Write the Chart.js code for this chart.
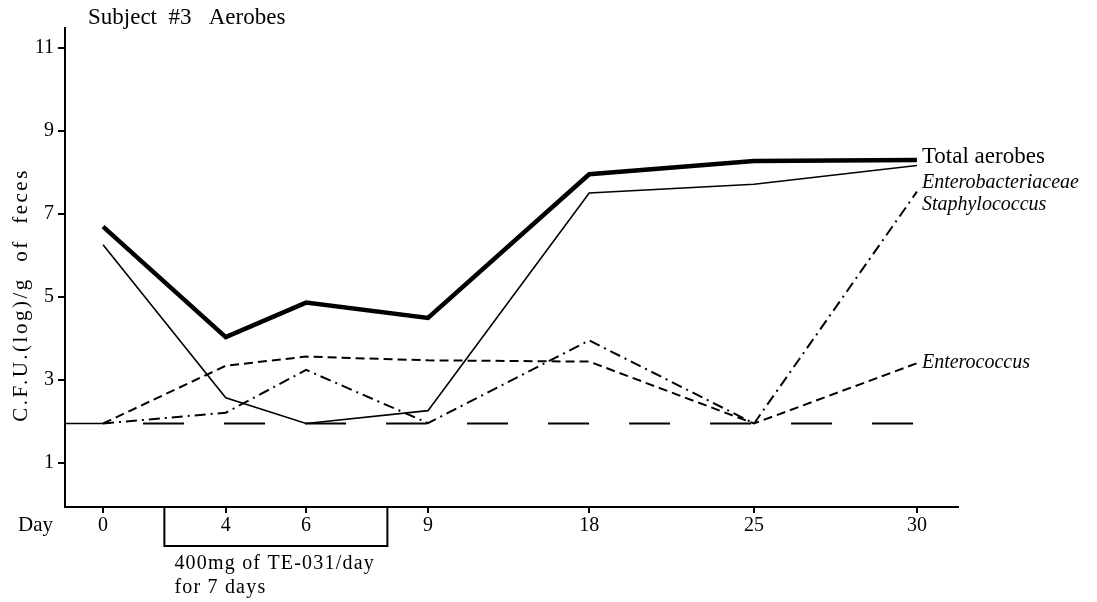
<!DOCTYPE html>
<html>
<head>
<meta charset="utf-8">
<script src="https://cdn.jsdelivr.net/npm/chart.js@4"></script>
<style>
  body { margin: 0; background: #fff; }
  #wrap { width: 1097px; height: 602px; position: relative; }
</style>
</head>
<body>
<div id="wrap"><canvas id="chart"></canvas></div>
<script>
// data
const days = ['0', '4', '6', '9', '18', '25', '30'];
const totalAerobes = [6.69, 4.03, 4.86, 4.49, 7.95, 8.27, 8.29];
const enterobacteriaceae = [6.25, 2.57, 1.95, 2.26, 7.5, 7.71, 8.16];
const staphylococcus = [1.95, 2.21, 3.24, 1.96, 3.95, 1.95, 7.53];
const enterococcus = [1.95, 3.34, 3.56, 3.47, 3.44, 1.95, 3.4];
const detectionLimit = [1.95, 1.95, 1.95, 1.95, 1.95, 1.95, 1.95];
const yTicks = [1, 3, 5, 7, 9, 11];
const dosingDays = [2, 8];
const dosingText = ['400mg of TE-031/day', 'for 7 days'];

const SERIF = '"Liberation Serif", "DejaVu Serif", serif';

// the day axis of the original is not evenly spaced, so each category
// gets its own place along the axis (fraction of the axis length)
const axisStops = [0.0426, 0.180, 0.270, 0.4065, 0.587, 0.7716, 0.954];

class DayScale extends Chart.CategoryScale {
    getPixelForValue(value) {
        if (typeof value !== 'number') value = this.parse(value);
        if (value === null || value === undefined || isNaN(value)) return NaN;
        const i = Math.max(0, Math.min(axisStops.length - 2, Math.floor(value)));
        const f = value - i;
        return this.getPixelForDecimal(axisStops[i] + (axisStops[i + 1] - axisStops[i]) * f);
    }
}
DayScale.id = 'dayScale';
DayScale.defaults = Chart.CategoryScale.defaults;
Chart.register(DayScale);

// day number -> fractional category index
function dayIndex(day) {
    const nums = days.map(Number);
    for (let i = 0; i < nums.length - 1; i++) {
        if (day <= nums[i + 1]) return i + (day - nums[i]) / (nums[i + 1] - nums[i]);
    }
    return nums.length - 1;
}

const extras = {
    id: 'extras',
    afterDraw(chart) {
        const { ctx, chartArea, scales: { x, y } } = chart;
        ctx.save();
        ctx.fillStyle = '#000';
        ctx.strokeStyle = '#000';

        // detection line stub from the axis to day 0
        const yd = y.getPixelForValue(detectionLimit[0]);
        ctx.lineWidth = 1.5;
        ctx.beginPath();
        ctx.moveTo(chartArea.left, yd);
        ctx.lineTo(x.getPixelForValue(0), yd);
        ctx.stroke();

        // title
        ctx.font = '23px ' + SERIF;
        ctx.textAlign = 'left';
        ctx.textBaseline = 'alphabetic';
        ctx.fillText('Subject  #3   Aerobes', 88, 24);

        // "Day"
        ctx.font = '21px ' + SERIF;
        ctx.fillText('Day', 18, 531);

        // y axis title
        ctx.save();
        ctx.translate(27, 295);
        ctx.rotate(-Math.PI / 2);
        ctx.textAlign = 'center';
        ctx.font = '21px ' + SERIF;
        ctx.letterSpacing = '2.5px';
        ctx.fillText('C.F.U.(log)/g  of  feces', 0, 0);
        ctx.restore();

        // dosing bracket
        const bx1 = x.getPixelForValue(dayIndex(dosingDays[0]));
        const bx2 = x.getPixelForValue(dayIndex(dosingDays[1]));
        const by = chartArea.bottom + 39;
        ctx.lineWidth = 2;
        ctx.beginPath();
        ctx.moveTo(bx1, chartArea.bottom);
        ctx.lineTo(bx1, by);
        ctx.lineTo(bx2, by);
        ctx.lineTo(bx2, chartArea.bottom);
        ctx.stroke();
        ctx.font = '20px ' + SERIF;
        ctx.letterSpacing = '1.2px';
        ctx.fillText(dosingText[0], bx1 + 10, by + 23);
        ctx.fillText(dosingText[1], bx1 + 10, by + 47);
        ctx.letterSpacing = '0px';

        // labels at line ends
        chart.data.datasets.forEach((ds, i) => {
            if (!ds.endLabel) return;
            const pts = chart.getDatasetMeta(i).data;
            const p = pts[pts.length - 1];
            ctx.font = ds.endLabel.font;
            ctx.fillText(ds.label, p.x + 5, p.y + ds.endLabel.dy);
        });
        ctx.restore();
    }
};

new Chart(document.getElementById('chart'), {
    type: 'line',
    data: {
        labels: days,
        datasets: [
            {
                label: 'Total aerobes',
                data: totalAerobes,
                borderColor: '#000',
                borderWidth: 4.5,
                endLabel: { font: '23px ' + SERIF, dy: 3 },
            },
            {
                label: 'Enterobacteriaceae',
                data: enterobacteriaceae,
                borderColor: '#000',
                borderWidth: 1.6,
                endLabel: { font: 'italic 20px ' + SERIF, dy: 22 },
            },
            {
                label: 'Staphylococcus',
                data: staphylococcus,
                borderColor: '#000',
                borderWidth: 2,
                borderDash: [11, 5, 2, 5],
                endLabel: { font: 'italic 20px ' + SERIF, dy: 18 },
            },
            {
                label: 'Enterococcus',
                data: enterococcus,
                borderColor: '#000',
                borderWidth: 2,
                borderDash: [9, 5],
                endLabel: { font: 'italic 20px ' + SERIF, dy: 5 },
            },
            {
                label: 'detection limit',
                data: detectionLimit,
                borderColor: '#000',
                borderWidth: 2,
                borderDash: [41, 40],
                borderDashOffset: 41,
            },
        ],
    },
    options: {
        responsive: true,
        maintainAspectRatio: false,
        animation: false,
        events: [],
        layout: { padding: { left: 0, right: 139, top: 28, bottom: 0 } },
        elements: {
            point: { radius: 0 },
            line: { tension: 0, borderCapStyle: 'butt', borderJoinStyle: 'miter' },
        },
        plugins: {
            legend: { display: false },
            tooltip: { enabled: false },
        },
        scales: {
            x: {
                type: 'dayScale',
                offset: false,
                grid: { drawOnChartArea: false, color: '#000', lineWidth: 2, tickLength: 6 },
                border: { display: true, color: '#000', width: 2 },
                ticks: {
                    color: '#000',
                    font: { family: SERIF, size: 20 },
                    padding: 1,
                    maxRotation: 0,
                    autoSkip: false,
                },
                afterFit(scale) { scale.height = 95; },
            },
            y: {
                min: -0.06,
                max: 11.47,
                grid: { drawOnChartArea: false, color: '#000', lineWidth: 2, tickLength: 7 },
                border: { display: true, color: '#000', width: 2 },
                ticks: {
                    color: '#000',
                    font: { family: SERIF, size: 20 },
                    padding: 4,
                },
                afterBuildTicks(scale) { scale.ticks = yTicks.map(v => ({ value: v })); },
                afterFit(scale) { scale.width = 65; },
            },
        },
    },
    plugins: [extras],
});
</script>
</body>
</html>
